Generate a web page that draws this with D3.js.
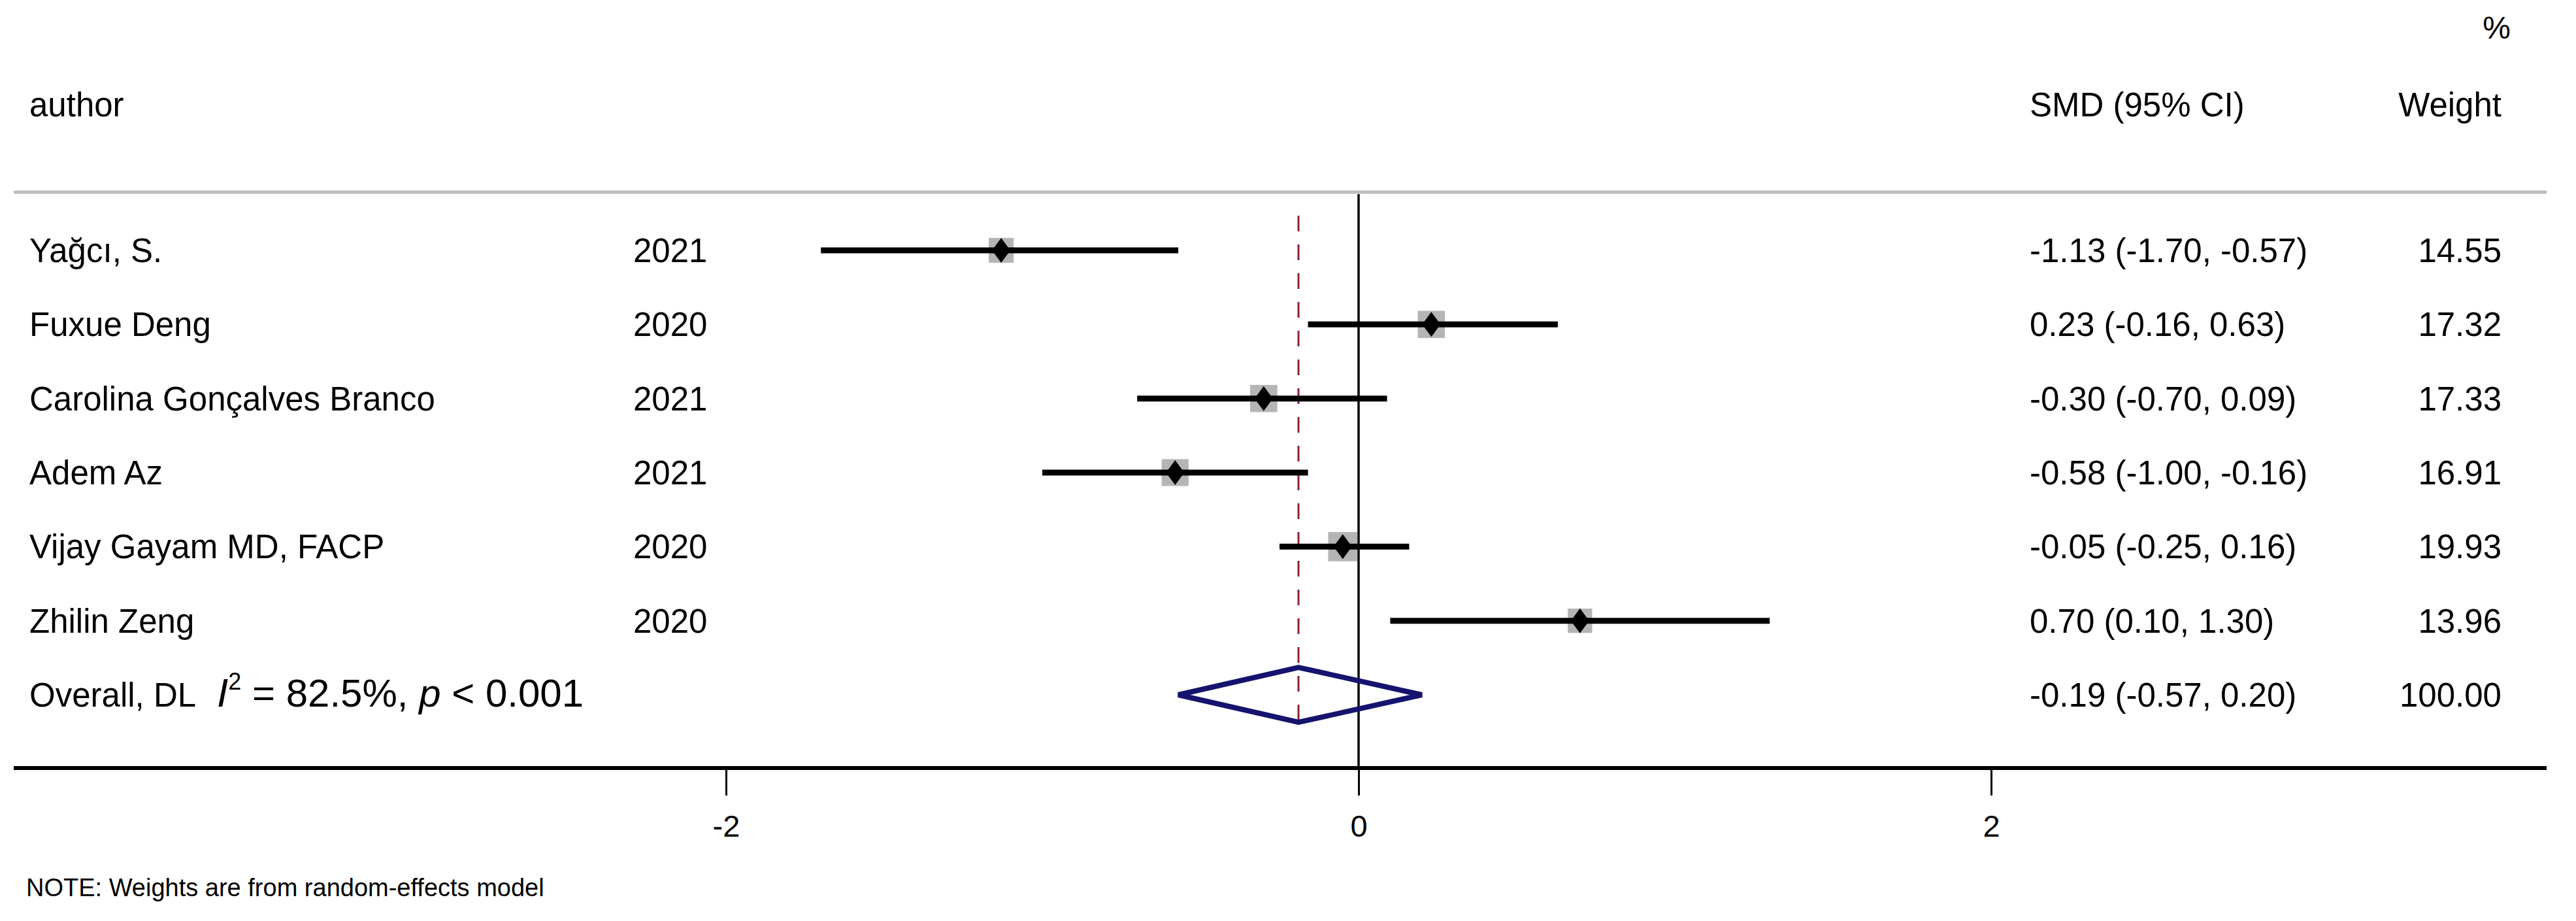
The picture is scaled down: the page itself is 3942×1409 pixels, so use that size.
<!DOCTYPE html>
<html><head><meta charset="utf-8">
<script src="https://cdn.jsdelivr.net/npm/d3@7"></script>
<style>
html,body{margin:0;padding:0;background:#fff;}
svg text{font-family:"Liberation Sans",Arial,Helvetica,sans-serif;fill:#000;}
</style></head>
<body>
<svg id="chart" width="3942" height="1409"></svg>
<script>
// ---- data ----
const authors = ["Yağcı, S.", "Fuxue Deng", "Carolina Gonçalves Branco", "Adem Az", "Vijay Gayam MD, FACP", "Zhilin Zeng"];
const years = ["2021", "2020", "2021", "2021", "2020", "2020"];
const smd = [-1.13, 0.23, -0.30, -0.58, -0.05, 0.70];
const lower = [-1.70, -0.16, -0.70, -1.00, -0.25, 0.10];
const upper = [-0.57, 0.63, 0.09, -0.16, 0.16, 1.30];
const weights = [14.55, 17.32, 17.33, 16.91, 19.93, 13.96];
const overall = {est: -0.19, lo: -0.57, hi: 0.20, weight: 100.00, i2: "82.5%", p: "0.001"};
const tickValues = [-2, 0, 2];
const tickLabels = ["-2", "0", "2"];

// ---- layout ----
const svg = d3.select("#chart");
const x = d3.scaleLinear().domain([-2, 2]).range([1111, 3047]);
const y = d3.scaleLinear().domain([0, 6]).range([383, 1063]);
const fmt = v => v.toFixed(2);
const FS = 51;
const leftX = 45, yearX = 969, ciX = 3106, wRight = 3828;
const frameL = 21, frameR = 3897, axisY = 1175, headLineY = 294;

// headers
svg.append("text").attr("x", wRight + 14).attr("y", 59).attr("text-anchor", "end").attr("font-size", 48).text("%");
svg.append("text").attr("x", leftX).attr("y", 178).attr("font-size", FS).text("author");
svg.append("text").attr("x", ciX).attr("y", 178).attr("font-size", FS).text("SMD (95% CI)");
svg.append("text").attr("x", wRight).attr("y", 178).attr("text-anchor", "end").attr("font-size", FS).text("Weight");

// header rule
svg.append("line").attr("x1", frameL).attr("x2", frameR).attr("y1", headLineY).attr("y2", headLineY)
  .attr("stroke", "#bdbdbd").attr("stroke-width", 5);

// zero line
svg.append("line").attr("x1", x(0)).attr("x2", x(0)).attr("y1", headLineY + 3).attr("y2", axisY)
  .attr("stroke", "#000").attr("stroke-width", 3.5);

// overall dashed line
svg.append("line").attr("x1", x(overall.est)).attr("x2", x(overall.est)).attr("y1", 330).attr("y2", 1117)
  .attr("stroke", "#8e2233").attr("stroke-width", 3).attr("stroke-dasharray", "24,20");

// studies
const rows = authors.map((a, i) => ({a, yr: years[i], e: smd[i], lo: lower[i], hi: upper[i], w: weights[i], i}));
const g = svg.append("g");
rows.forEach(d => {
  const cy = y(d.i);
  const side = 10 * Math.sqrt(d.w);
  g.append("rect").attr("x", x(d.e) - side / 2).attr("y", cy - side / 2).attr("width", side).attr("height", side)
    .attr("fill", "#b5b5b5");
  g.append("line").attr("x1", x(d.lo)).attr("x2", x(d.hi)).attr("y1", cy).attr("y2", cy)
    .attr("stroke", "#000").attr("stroke-width", 9);
  const ex = x(d.e);
  g.append("path").attr("d", `M${ex},${cy - 19}L${ex + 14},${cy}L${ex},${cy + 19}L${ex - 14},${cy}Z`).attr("fill", "#000");
  g.append("text").attr("x", leftX).attr("y", cy + 18).attr("font-size", FS).text(d.a);
  g.append("text").attr("x", yearX).attr("y", cy + 18).attr("font-size", FS).text(d.yr);
  g.append("text").attr("x", ciX).attr("y", cy + 18).attr("font-size", FS)
    .text(`${fmt(d.e)} (${fmt(d.lo)}, ${fmt(d.hi)})`);
  g.append("text").attr("x", wRight).attr("y", cy + 18).attr("text-anchor", "end").attr("font-size", FS).text(fmt(d.w));
});

// overall row
const oy = y(6);
svg.append("path")
  .attr("d", `M${x(overall.lo)},${oy}L${x(overall.est)},${oy - 42}L${x(overall.hi)},${oy}L${x(overall.est)},${oy + 42}Z`)
  .attr("fill", "none").attr("stroke", "#14146e").attr("stroke-width", 8).attr("stroke-linejoin", "miter");
const ot = svg.append("text").attr("x", leftX).attr("y", oy + 18).attr("font-size", FS);
ot.append("tspan").text("Overall, DL");
ot.append("tspan").attr("x", 332).attr("font-size", 62).attr("font-style", "italic").text("I");
ot.append("tspan").attr("font-size", 36).attr("dy", -26).text("2");
ot.append("tspan").attr("font-size", 60).attr("dy", 26).text(" = 82.5%, ");
ot.append("tspan").attr("font-size", 60).attr("font-style", "italic").text("p");
ot.append("tspan").attr("font-size", 60).text(" < " + overall.p);
svg.append("text").attr("x", ciX).attr("y", oy + 18).attr("font-size", FS)
  .text(`${fmt(overall.est)} (${fmt(overall.lo)}, ${fmt(overall.hi)})`);
svg.append("text").attr("x", wRight).attr("y", oy + 18).attr("text-anchor", "end").attr("font-size", FS).text(fmt(overall.weight));

// x axis
svg.append("line").attr("x1", frameL).attr("x2", frameR).attr("y1", axisY).attr("y2", axisY)
  .attr("stroke", "#000").attr("stroke-width", 6);
const axis = d3.axisBottom(x).tickValues(tickValues).tickSize(42).tickPadding(30)
  .tickFormat((d, i) => tickLabels[i]);
const ag = svg.append("g").attr("transform", `translate(0,${axisY})`).call(axis);
ag.select(".domain").remove();
ag.selectAll(".tick line").attr("stroke", "#000").attr("stroke-width", 3);
ag.selectAll(".tick text").attr("font-size", 47).attr("fill", "#000")
  .style("font-family", "'Liberation Sans',Arial,sans-serif");

// note
svg.append("text").attr("x", leftX - 5).attr("y", 1371).attr("font-size", 38).text("NOTE: Weights are from random-effects model");
</script>
</body></html>
